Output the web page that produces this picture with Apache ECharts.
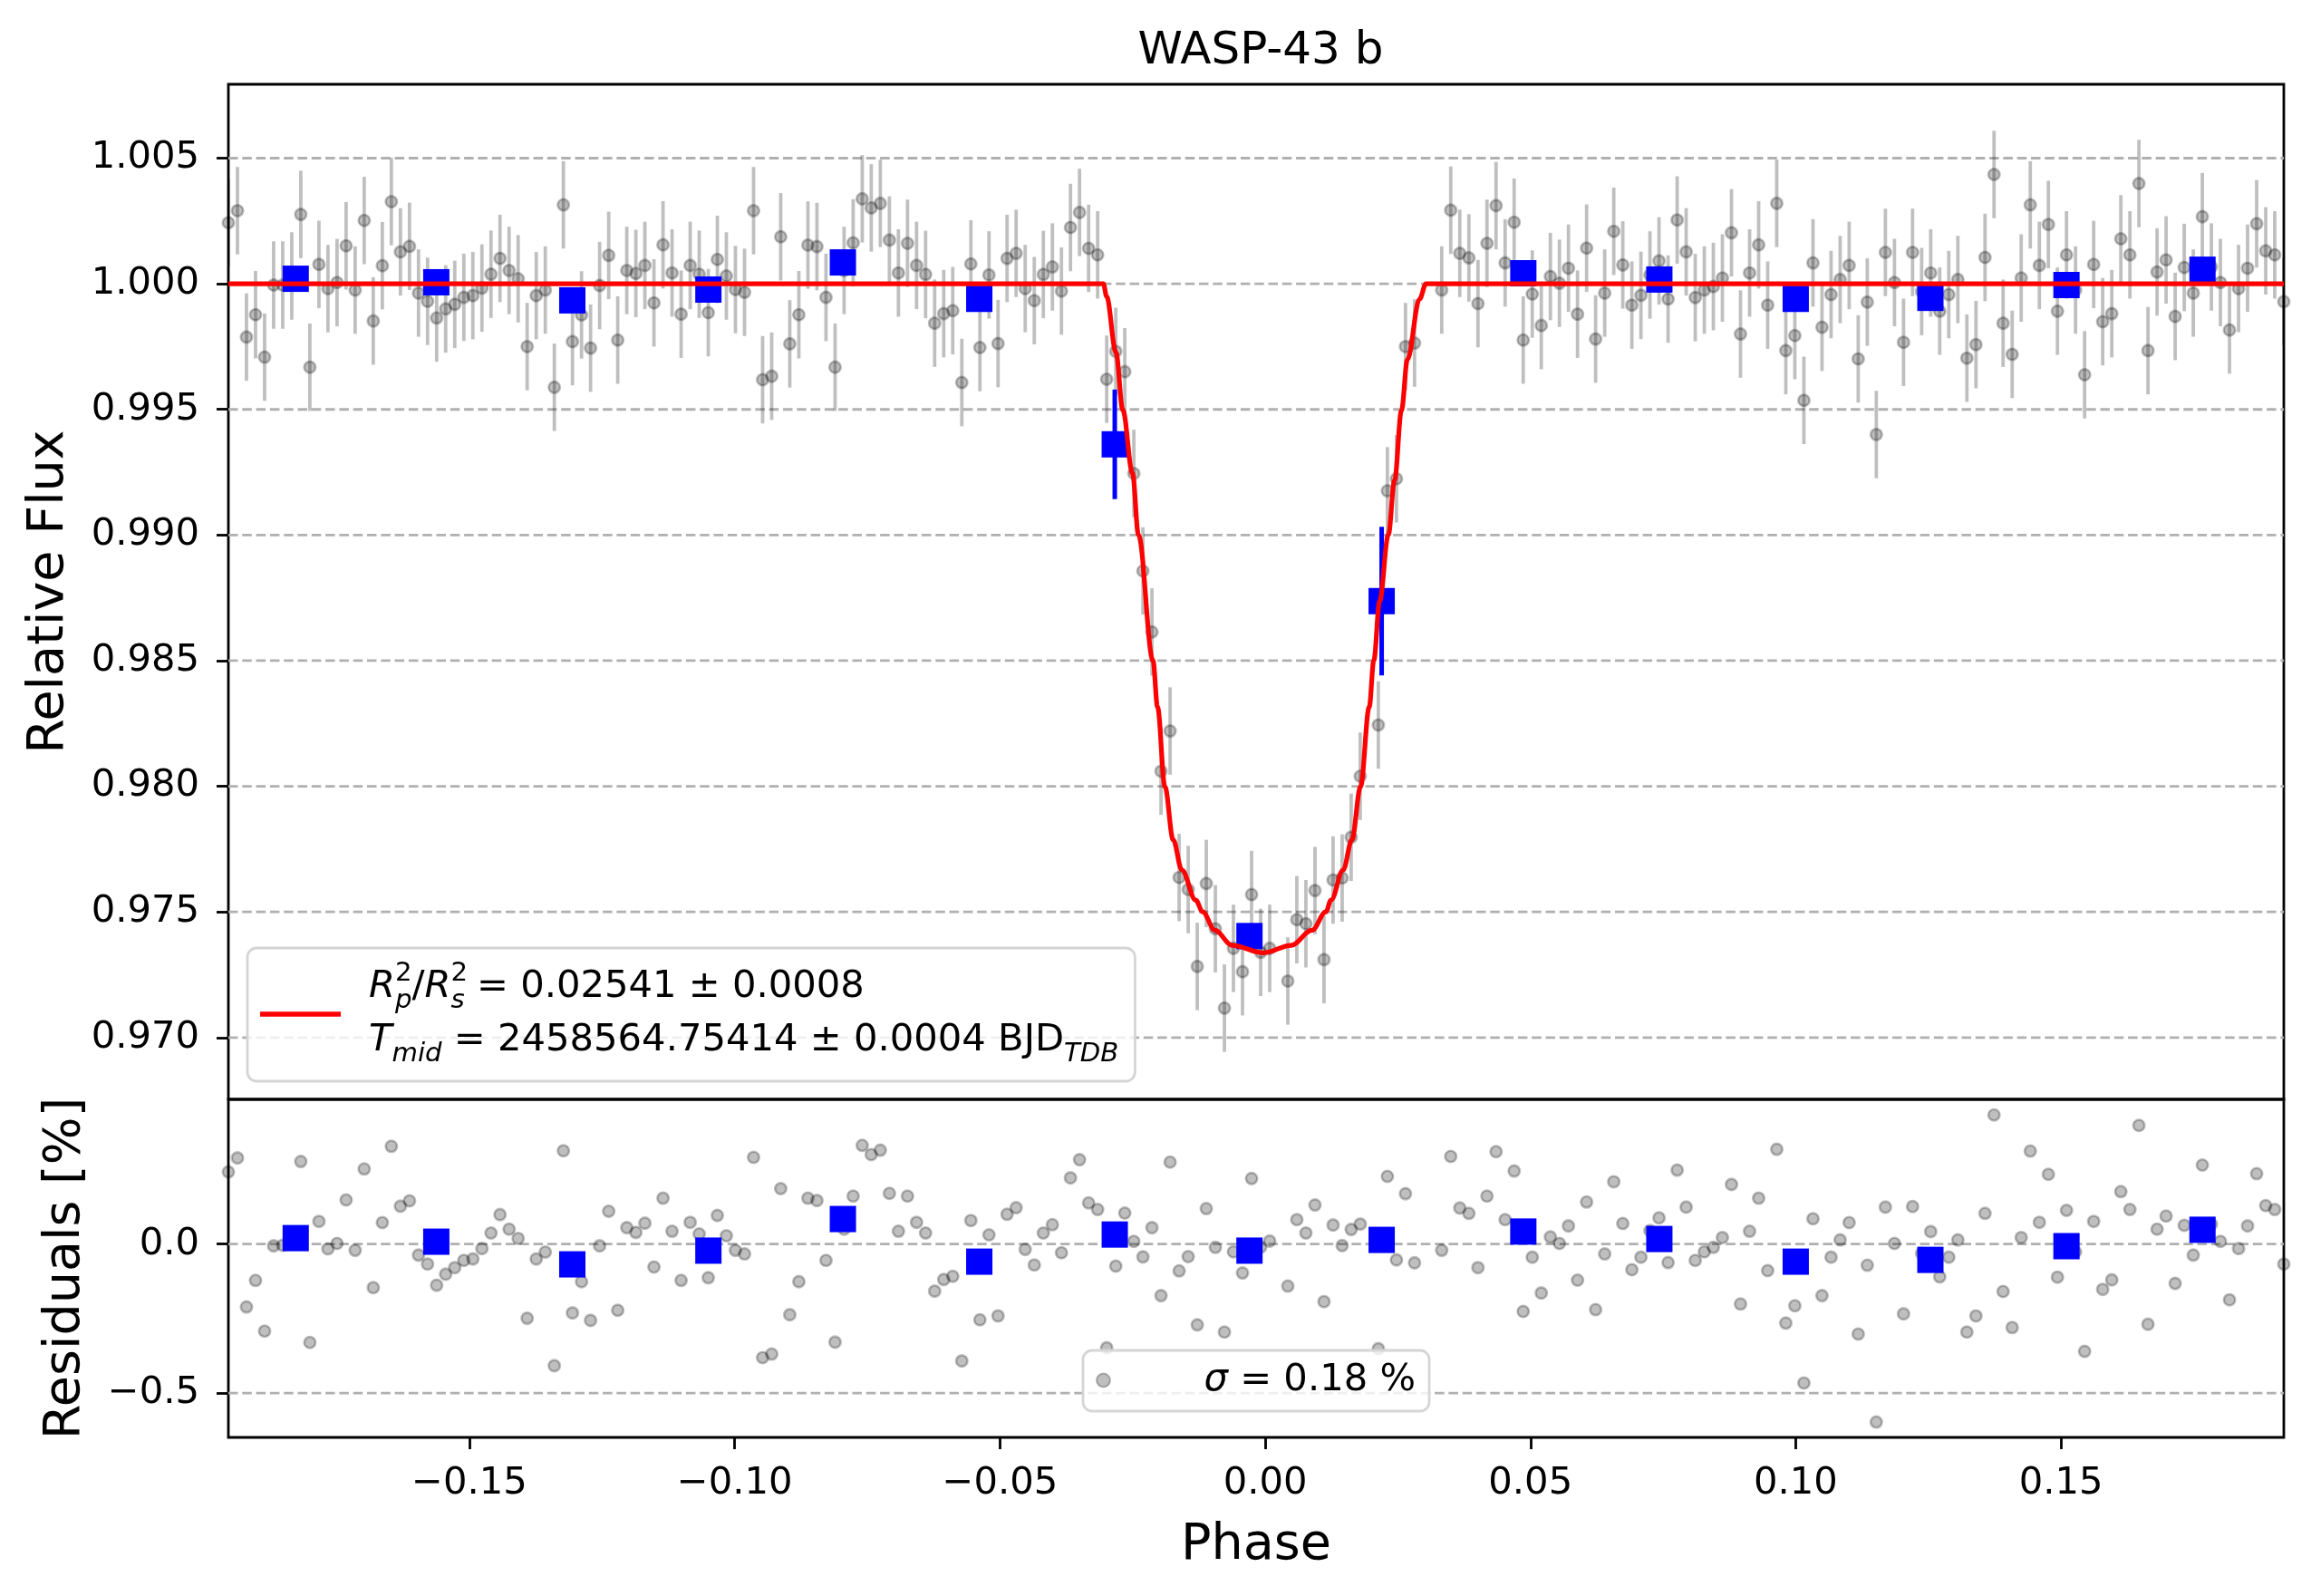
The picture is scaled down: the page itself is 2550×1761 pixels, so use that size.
<!DOCTYPE html>
<html>
<head>
<meta charset="utf-8">
<script src="https://cdn.jsdelivr.net/npm/echarts@6/dist/echarts.min.js"></script>
<style>html,body{margin:0;padding:0;background:#fff}#chart{width:2550px;height:1761px}</style>
</head>
<body>
<div id="chart"></div>
<script>
// ---- data ----
const phase = [
 -0.19544,-0.19373,-0.19203,-0.19032,-0.18861,-0.18691,-0.18520,-0.18349,-0.18179,-0.18008,
 -0.17837,-0.17667,-0.17496,-0.17325,-0.17154,-0.16984,-0.16813,-0.16642,-0.16472,-0.16301,
 -0.16130,-0.15960,-0.15789,-0.15618,-0.15448,-0.15277,-0.15106,-0.14936,-0.14765,-0.14594,
 -0.14424,-0.14253,-0.14082,-0.13912,-0.13741,-0.13570,-0.13400,-0.13229,-0.13058,-0.12887,
 -0.12717,-0.12546,-0.12375,-0.12205,-0.12034,-0.11863,-0.11693,-0.11522,-0.11351,-0.11181,
 -0.11010,-0.10839,-0.10669,-0.10498,-0.10327,-0.10157,-0.09986,-0.09815,-0.09645,-0.09474,
 -0.09303,-0.09133,-0.08962,-0.08791,-0.08620,-0.08450,-0.08279,-0.08108,-0.07938,-0.07767,
 -0.07596,-0.07426,-0.07255,-0.07084,-0.06914,-0.06743,-0.06572,-0.06402,-0.06231,-0.06060,
 -0.05890,-0.05719,-0.05548,-0.05378,-0.05207,-0.05036,-0.04866,-0.04695,-0.04524,-0.04353,
 -0.04183,-0.04012,-0.03841,-0.03671,-0.03500,-0.03329,-0.03159,-0.02988,-0.02817,-0.02647,
 -0.02476,-0.02305,-0.02135,-0.01964,-0.01793,-0.01623,-0.01452,-0.01281,-0.01111,-0.00940,
 -0.00769,-0.00599,-0.00428,-0.00257,-0.00086,0.00084,
 0.00426,0.00596,0.00767,0.00938,0.01108,0.01279,0.01450,0.01620,0.01791,
 0.02132,0.02303,0.02474,0.02644,0.02815,
 0.03327,0.03497,0.03668,0.03839,0.04010,0.04180,
 0.04351,0.04522,0.04692,0.04863,0.05034,0.05204,0.05375,0.05546,0.05716,0.05887,
 0.06058,0.06228,0.06399,0.06570,0.06740,0.06911,0.07082,0.07252,0.07423,0.07594,
 0.07765,0.07935,0.08106,0.08277,0.08447,0.08618,0.08789,0.08959,0.09130,0.09301,
 0.09471,0.09642,0.09813,0.09983,0.10154,0.10325,0.10495,0.10666,0.10837,0.11007,
 0.11178,0.11349,0.11519,0.11690,0.11861,0.12032,0.12202,0.12373,0.12544,0.12714,
 0.12885,0.13056,0.13226,0.13397,0.13568,0.13738,0.13909,0.14080,0.14250,0.14421,
 0.14592,0.14762,0.14933,0.15104,0.15274,0.15445,0.15616,0.15786,0.15957,0.16128,
 0.16299,0.16469,0.16640,0.16811,0.16981,0.17152,0.17323,0.17493,0.17664,0.17835,
 0.18005,0.18176,0.18347,0.18517,0.18688,0.18859,0.19029,0.19200
];
const flux = [
 1.00243,1.00291,0.99788,0.99877,0.99708,0.99995,0.99995,1.00031,1.00276,0.99668,
 1.00077,0.99981,1.00005,1.00151,0.99975,1.00252,0.99852,1.00072,1.00327,1.00127,
 1.00149,0.99963,0.99930,0.99864,0.99900,0.99918,0.99946,0.99953,0.99983,1.00038,
 1.00101,1.00053,1.00020,0.99750,0.99953,0.99975,0.99588,1.00314,0.99770,0.99876,
 0.99744,0.99993,1.00113,0.99776,1.00053,1.00041,1.00073,0.99924,1.00155,1.00043,
 0.99879,1.00073,1.00038,0.99885,1.00097,1.00031,0.99977,0.99966,1.00291,0.99618,
 0.99632,1.00187,0.99761,0.99877,1.00154,1.00148,0.99946,0.99668,1.00053,1.00163,
 1.00338,1.00302,1.00320,1.00174,1.00043,1.00161,1.00073,1.00037,0.99843,0.99881,
 0.99893,0.99607,1.00079,0.99746,1.00035,0.99762,1.00101,1.00121,0.99981,0.99933,
 1.00037,1.00067,0.99971,1.00224,1.00284,1.00141,1.00115,0.99620,0.99731,0.99650,
 0.99245,0.98857,0.98614,0.98060,0.98220,0.97637,0.97589,0.97283,0.97613,0.97433,
 0.97117,0.97355,0.97262,0.97569,0.97339,0.97355,
 0.97225,0.97469,0.97453,0.97585,0.97310,0.97627,0.97635,0.97797,0.98040,
 0.98244,0.99176,0.99224,0.99750,0.99764,
 0.99975,1.00293,1.00121,1.00103,0.99921,1.00161,
 1.00311,1.00083,1.00245,0.99776,0.99959,0.99834,1.00029,1.00002,1.00062,0.99879,
 1.00142,0.99780,0.99963,1.00209,1.00075,0.99915,0.99954,1.00035,1.00091,0.99939,
 1.00254,1.00127,0.99945,0.99975,0.99989,1.00023,1.00203,0.99800,1.00043,1.00155,
 0.99915,1.00320,0.99734,0.99794,0.99536,1.00083,0.99827,0.99957,1.00017,1.00073,
 0.99701,0.99927,0.99400,1.00125,1.00005,0.99767,1.00125,0.99969,1.00043,0.99891,
 0.99957,1.00017,0.99704,0.99758,1.00105,1.00435,0.99843,0.99719,1.00023,1.00314,
 1.00073,1.00236,0.99891,1.00115,0.99975,0.99638,1.00077,0.99849,0.99881,1.00179,
 1.00115,1.00399,0.99734,1.00047,1.00095,0.99870,1.00065,0.99963,1.00267,1.00067,
 1.00005,0.99816,0.99981,1.00062,1.00239,1.00131,1.00115,0.99929
];
const fluxErr = 0.00174;
const residual = [
 0.242,0.289,-0.211,-0.122,-0.292,-0.006,-0.004,0.030,0.277,-0.330,
 0.076,-0.016,0.002,0.148,-0.021,0.252,-0.146,0.072,0.328,0.127,
 0.145,-0.037,-0.067,-0.138,-0.101,-0.079,-0.055,-0.050,-0.015,0.037,
 0.099,0.050,0.019,-0.249,-0.050,-0.027,-0.408,0.313,-0.231,-0.126,
 -0.256,-0.006,0.110,-0.222,0.055,0.039,0.070,-0.077,0.154,0.043,
 -0.122,0.073,0.034,-0.113,0.096,0.028,-0.021,-0.033,0.291,-0.381,
 -0.369,0.186,-0.237,-0.126,0.154,0.146,-0.055,-0.329,0.050,0.161,
 0.331,0.300,0.315,0.170,0.043,0.161,0.073,0.037,-0.158,-0.119,
 -0.108,-0.392,0.079,-0.254,0.031,-0.241,0.100,0.122,-0.018,-0.070,
 0.037,0.065,-0.029,0.222,0.283,0.138,0.116,-0.348,-0.074,0.104,
 0.009,-0.043,0.055,-0.173,0.275,-0.090,-0.042,-0.271,0.119,-0.011,
 -0.295,-0.026,-0.097,0.220,-0.010,0.010,
 -0.141,0.082,0.037,0.131,-0.193,0.064,-0.005,0.049,0.067,
 -0.351,0.227,-0.053,0.169,-0.063,
 -0.021,0.294,0.121,0.103,-0.079,0.161,
 0.310,0.082,0.245,-0.226,-0.044,-0.164,0.024,0.002,0.061,-0.121,
 0.141,-0.220,-0.033,0.209,0.069,-0.086,-0.044,0.045,0.088,-0.062,
 0.248,0.124,-0.055,-0.026,-0.011,0.022,0.200,-0.201,0.043,0.154,
 -0.089,0.318,-0.265,-0.207,-0.466,0.085,-0.173,-0.044,0.014,0.072,
 -0.302,-0.071,-0.597,0.124,0.002,-0.234,0.126,-0.031,0.042,-0.110,
 -0.044,0.014,-0.295,-0.241,0.103,0.433,-0.159,-0.280,0.022,0.312,
 0.073,0.234,-0.111,0.113,-0.026,-0.360,0.076,-0.152,-0.120,0.176,
 0.116,0.398,-0.269,0.050,0.094,-0.132,0.063,-0.037,0.265,0.067,
 0.009,-0.187,-0.015,0.061,0.236,0.129,0.116,-0.067
];
const binPhase = [-0.18275,-0.15625,-0.13061,-0.10496,-0.07961,-0.05390,-0.02836,-0.00297,0.02195,0.04865,0.07429,0.10000,0.12538,0.15103,0.17667];
const binFlux = [1.00020,1.00006,0.99934,0.99977,1.00085,0.99940,0.99361,0.97404,0.98737,1.00042,1.00017,0.99940,0.99944,0.99995,1.00056];
const binFluxErr = [0.00045,0.00045,0.00045,0.00045,0.00045,0.00045,0.00218,0.00045,0.00296,0.00045,0.00045,0.00045,0.00045,0.00045,0.00045];
const binResidual = [0.020,0.008,-0.068,-0.022,0.084,-0.059,0.032,-0.022,0.014,0.042,0.017,-0.059,-0.053,-0.007,0.048];
const modelPhase = [-0.19544,-0.0305,-0.0299,-0.02815,-0.02684,-0.02501,-0.0239,-0.02115,-0.0203,-0.0189,-0.01735,-0.01572,-0.0131,-0.01179,-0.0095,-0.00623,-0.0003,0.00489,0.00882,0.01143,0.01241,0.0147,0.01634,0.01797,0.01961,0.02046,0.02157,0.02321,0.02438,0.02569,0.0268,0.02909,0.0303,0.19200];
const modelFlux = [1.0,1.0,0.9995,0.99728,0.99497,0.99245,0.99001,0.985,0.98316,0.97998,0.97787,0.97667,0.97547,0.975,0.97427,0.97367,0.97337,0.97367,0.97427,0.975,0.97547,0.97667,0.97787,0.97998,0.98316,0.985,0.98737,0.99001,0.99218,0.99497,0.99698,0.99939,1.0,1.0];
const phaseTicks = [-0.15,-0.10,-0.05,0.00,0.05,0.10,0.15];
const fluxTicks = [0.970,0.975,0.980,0.985,0.990,0.995,1.000,1.005];
const residualTicks = [-0.5,0.0];
const titleText = 'WASP-43 b';
const sigmaText = '0.18 %';

// ---- chart ----
const FONT = 'DejaVu Sans';
const GRAY = 'rgba(0,0,0,0.25)';
const minus = s => s.replace('-', '\u2212');
const phaseMin = phase[0], phaseMax = phase[phase.length - 1];

const fluxData = phase.map((p, i) => [p, flux[i], fluxErr]);
const resData = phase.map((p, i) => [p, residual[i]]);
const binData = binPhase.map((p, i) => [p, binFlux[i], binFluxErr[i]]);
const binResData = binPhase.map((p, i) => [p, binResidual[i]]);
const modelData = modelPhase.map((p, i) => [p, modelFlux[i]]);

function errRender(color, width) {
  return function (params, api) {
    const x = api.value(0), y = api.value(1), e = api.value(2);
    const a = api.coord([x, y - e]);
    const b = api.coord([x, y + e]);
    return {type: 'line', shape: {x1: a[0], y1: a[1], x2: b[0], y2: b[1]},
            style: {stroke: color, lineWidth: width}};
  };
}
// dashed horizontal grid lines, placed through the axis scale
function gridRender(params, api) {
  const cs = params.coordSys;
  const y = api.coord([phaseMin, api.value(1)])[1];
  return {type: 'line', shape: {x1: cs.x, y1: y, x2: cs.x + cs.width, y2: y},
          style: {stroke: '#b0b0b0', lineWidth: 2.8, lineDash: [10.5, 4.8]}};
}

const tickStyle = {show: true, length: 13, lineStyle: {color: '#000', width: 2.8}};
const labelStyle = {color: '#000', fontFamily: FONT, fontSize: 41.7};

const option = {
  animation: false,
  backgroundColor: '#fff',
  title: {
    text: titleText, left: 1386, top: 27, textAlign: 'center',
    textStyle: {fontFamily: FONT, fontSize: 50, fontWeight: 'normal', color: '#000', lineHeight: 50}
  },
  grid: [
    {left: 252, right: 30, top: 93, height: 1120, show: true, borderColor: '#000', borderWidth: 2.8, backgroundColor: 'transparent'},
    {left: 252, right: 30, top: 1213, height: 373, show: true, borderColor: '#000', borderWidth: 2.8, backgroundColor: 'transparent'}
  ],
  xAxis: [
    {type: 'value', gridIndex: 0, min: phaseMin, max: phaseMax,
     axisLine: {show: false, onZero: false}, axisTick: {show: false}, axisLabel: {show: false}, splitLine: {show: false}},
    {type: 'value', gridIndex: 1, min: phaseMin, max: phaseMax,
     axisLine: {show: false, onZero: false},
     axisTick: Object.assign({customValues: phaseTicks}, tickStyle),
     axisLabel: Object.assign({customValues: phaseTicks, margin: 30, formatter: v => minus(v.toFixed(2))}, labelStyle),
     splitLine: {show: false},
     name: 'Phase', nameLocation: 'middle', nameGap: 92,
     nameTextStyle: {fontFamily: FONT, fontSize: 55.6, color: '#000'}}
  ],
  yAxis: [
    {type: 'value', gridIndex: 0, min: 0.96754, max: 1.00794,
     axisLine: {show: false, onZero: false},
     axisTick: Object.assign({customValues: fluxTicks}, tickStyle),
     axisLabel: Object.assign({customValues: fluxTicks, margin: 32, formatter: v => v.toFixed(3)}, labelStyle),
     splitLine: {show: false},
     name: 'Relative Flux', nameLocation: 'middle', nameGap: 169, nameRotate: 90,
     nameTextStyle: {fontFamily: FONT, fontSize: 55.6, color: '#000'}},
    {type: 'value', gridIndex: 1, min: -0.6485, max: 0.4855,
     axisLine: {show: false, onZero: false},
     axisTick: Object.assign({customValues: residualTicks}, tickStyle),
     axisLabel: Object.assign({customValues: residualTicks, margin: 32, formatter: v => minus(v.toFixed(1))}, labelStyle),
     splitLine: {show: false},
     name: 'Residuals [%]', nameLocation: 'middle', nameGap: 151, nameRotate: 90,
     nameTextStyle: {fontFamily: FONT, fontSize: 55.6, color: '#000'}}
  ],
  legend: [
    {
      left: 273, top: 1046, orient: 'vertical', selectedMode: false,
      data: [{name: 'model', icon: 'rect'}],
      itemWidth: 89, itemHeight: 5.5,
      padding: [14, 18, 15, 14],
      backgroundColor: 'rgba(255,255,255,0.8)', borderColor: '#d5d5d5', borderWidth: 2.8, borderRadius: 10,
      formatter: () => '{it|R}{sup|2}{sub|p}{n|/}{it|R}{sup|2}{sub|s}{n| = 0.02541 \u00b1 0.0008}\n{it|T}{sub|mid}{n| = 2458564.75414 \u00b1 0.0004 BJD}{sub|TDB}',
      textStyle: {
        fontFamily: FONT, fontSize: 41.7, color: '#000', padding: [0, 0, 0, 26],
        rich: {
          n: {fontFamily: FONT, fontSize: 41.7, color: '#000', lineHeight: 59},
          it: {fontFamily: FONT, fontSize: 41.7, fontStyle: 'italic', color: '#000', lineHeight: 59},
          sup: {fontFamily: FONT, fontSize: 29.2, color: '#000', lineHeight: 29, verticalAlign: 'top', width: 0},
          sub: {fontFamily: FONT, fontSize: 29.2, fontStyle: 'italic', color: '#000', lineHeight: 36, verticalAlign: 'bottom'}
        }
      }
    },
    {
      left: 1195, top: 1490, orient: 'vertical', selectedMode: false,
      data: [{name: 'sigma', icon: 'circle'}],
      itemWidth: 80, itemHeight: 15,
      padding: [12, 15, 13, 14],
      backgroundColor: 'rgba(255,255,255,0.8)', borderColor: '#d5d5d5', borderWidth: 2.8, borderRadius: 10,
      formatter: () => '{it|\u03c3}{n| = ' + sigmaText + '}',
      textStyle: {
        fontFamily: FONT, fontSize: 41.7, color: '#000', padding: [0, 0, 0, 66],
        rich: {
          n: {fontFamily: FONT, fontSize: 41.7, color: '#000', lineHeight: 50},
          it: {fontFamily: FONT, fontSize: 41.7, fontStyle: 'italic', color: '#000', lineHeight: 50}
        }
      }
    }
  ],
  series: [
    {name: 'fluxGrid', type: 'custom', xAxisIndex: 0, yAxisIndex: 0, z: 1, silent: true,
     renderItem: gridRender, data: fluxTicks.map(v => [phaseMin, v]), encode: {x: 0, y: 1}},
    {name: 'resGrid', type: 'custom', xAxisIndex: 1, yAxisIndex: 1, z: 1, silent: true,
     renderItem: gridRender, data: residualTicks.map(v => [phaseMin, v]), encode: {x: 0, y: 1}},
    {name: 'fluxErr', type: 'custom', xAxisIndex: 0, yAxisIndex: 0, z: 2, clip: true, silent: true,
     renderItem: errRender(GRAY, 3.8), data: fluxData, encode: {x: 0, y: 1}},
    {name: 'flux', type: 'scatter', xAxisIndex: 0, yAxisIndex: 0, z: 3, clip: true, silent: true,
     symbol: 'circle', symbolSize: 12.5, data: fluxData.map(d => [d[0], d[1]]),
     itemStyle: {color: GRAY, borderColor: GRAY, borderWidth: 2.6, opacity: 1}},
    {name: 'binErr', type: 'custom', xAxisIndex: 0, yAxisIndex: 0, z: 4, clip: true, silent: true,
     renderItem: errRender('#0000ff', 5), data: binData, encode: {x: 0, y: 1}},
    {name: 'bins', type: 'scatter', xAxisIndex: 0, yAxisIndex: 0, z: 4, clip: true, silent: true,
     symbol: 'rect', symbolSize: 29, data: binData.map(d => [d[0], d[1]]),
     itemStyle: {color: '#0000ff', opacity: 1}},
    {name: 'model', type: 'line', xAxisIndex: 0, yAxisIndex: 0, z: 5, clip: true, silent: true,
     data: modelData, showSymbol: false, smooth: 0.35, smoothMonotone: 'x',
     lineStyle: {color: '#ff0000', width: 5.2}, itemStyle: {color: '#ff0000'}},
    {name: 'sigma', type: 'scatter', xAxisIndex: 1, yAxisIndex: 1, z: 3, clip: true, silent: true,
     symbol: 'circle', symbolSize: 12.5, data: resData,
     itemStyle: {color: GRAY, borderColor: GRAY, borderWidth: 2.6, opacity: 1}},
    {name: 'binRes', type: 'scatter', xAxisIndex: 1, yAxisIndex: 1, z: 4, clip: true, silent: true,
     symbol: 'rect', symbolSize: 29, data: binResData,
     itemStyle: {color: '#0000ff', opacity: 1}}
  ]
};

const chart = echarts.init(document.getElementById('chart'), null, {renderer: 'canvas', width: 2550, height: 1761});
chart.setOption(option);
</script>
</body>
</html>
